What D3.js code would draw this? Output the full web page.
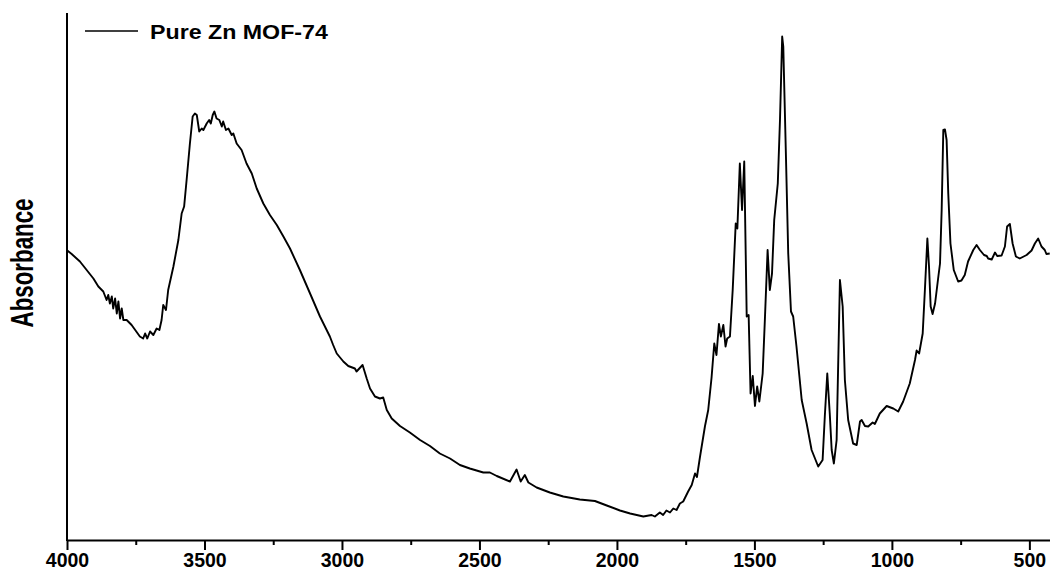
<!DOCTYPE html>
<html>
<head>
<meta charset="utf-8">
<script src="https://cdn.jsdelivr.net/npm/d3@7"></script>
<style>
    body { margin: 0; background: #fff; }
</style>
</head>
<body>
<svg></svg>
<script>
// FTIR spectrum (wavenumber in cm-1, absorbance in a.u.)
const wavenumber = [3999, 3983, 3953, 3904, 3886, 3868, 3856, 3850, 3844, 3837,
    3832, 3825, 3819, 3813, 3807, 3801, 3795, 3783, 3765, 3735,
    3723, 3716, 3708, 3698, 3686, 3674, 3664, 3656, 3650, 3640,
    3632, 3613, 3595, 3583, 3574, 3565, 3553, 3543, 3535, 3528,
    3519, 3510, 3504, 3492, 3483, 3477, 3470, 3464, 3456, 3446,
    3437, 3432, 3422, 3413, 3401, 3395, 3383, 3365, 3347, 3328,
    3310, 3286, 3262, 3237, 3213, 3189, 3153, 3116, 3080, 3044,
    3032, 3019, 2995, 2977, 2953, 2947, 2925, 2910, 2898, 2880,
    2862, 2850, 2837, 2819, 2789, 2753, 2716, 2680, 2644, 2607,
    2571, 2535, 2486, 2462, 2437, 2389, 2365, 2350, 2335, 2322,
    2292, 2244, 2195, 2135, 2080, 2037, 1989, 1952, 1904, 1874,
    1862, 1844, 1832, 1820, 1807, 1795, 1783, 1771, 1759, 1741,
    1728, 1716, 1709, 1698, 1680, 1668, 1656, 1646, 1638, 1629,
    1622, 1613, 1605, 1599, 1589, 1579, 1568, 1562, 1553, 1545,
    1537, 1528, 1521, 1514, 1506, 1498, 1490, 1482, 1470, 1462,
    1452, 1444, 1436, 1428, 1415, 1407, 1399, 1395, 1385, 1377,
    1367, 1359, 1347, 1328, 1310, 1292, 1268, 1252, 1244, 1235,
    1226, 1219, 1211, 1201, 1189, 1179, 1171, 1159, 1141, 1128,
    1116, 1110, 1098, 1086, 1070, 1062, 1044, 1019, 995, 977,
    959, 935, 916, 910, 901, 888, 880, 871, 865, 859,
    852, 843, 831, 825, 819, 813, 807, 801, 795, 787,
    775, 759, 747, 735, 723, 704, 692, 680, 665, 655,
    650, 637, 625, 617, 601, 589, 581, 571, 561, 549,
    535, 510, 492, 480, 468, 456, 444, 438, 426]

const absorbance = [0.579, 0.572, 0.557, 0.523, 0.507, 0.497, 0.480, 0.490, 0.473, 0.487,
    0.463, 0.483, 0.453, 0.477, 0.443, 0.463, 0.440, 0.440, 0.430, 0.407,
    0.403, 0.413, 0.403, 0.417, 0.410, 0.423, 0.420, 0.440, 0.470, 0.460,
    0.500, 0.547, 0.600, 0.653, 0.667, 0.720, 0.793, 0.847, 0.853, 0.850,
    0.817, 0.823, 0.820, 0.833, 0.840, 0.833, 0.850, 0.857, 0.843, 0.840,
    0.827, 0.837, 0.820, 0.823, 0.810, 0.813, 0.793, 0.780, 0.753, 0.733,
    0.703, 0.673, 0.650, 0.630, 0.607, 0.583, 0.540, 0.493, 0.447, 0.407,
    0.390, 0.373, 0.357, 0.348, 0.343, 0.337, 0.350, 0.323, 0.303, 0.287,
    0.283, 0.285, 0.260, 0.243, 0.228, 0.215, 0.200, 0.188, 0.173, 0.163,
    0.150, 0.143, 0.135, 0.135, 0.128, 0.117, 0.141, 0.117, 0.130, 0.115,
    0.105, 0.095, 0.087, 0.081, 0.078, 0.069, 0.059, 0.053, 0.047, 0.050,
    0.047, 0.055, 0.050, 0.059, 0.055, 0.063, 0.060, 0.073, 0.077, 0.097,
    0.110, 0.133, 0.126, 0.166, 0.227, 0.260, 0.324, 0.393, 0.370, 0.432,
    0.407, 0.430, 0.387, 0.403, 0.407, 0.500, 0.633, 0.623, 0.753, 0.660,
    0.757, 0.447, 0.450, 0.293, 0.328, 0.268, 0.307, 0.277, 0.333, 0.440,
    0.580, 0.500, 0.533, 0.640, 0.713, 0.840, 1.007, 0.987, 0.760, 0.573,
    0.457, 0.447, 0.387, 0.280, 0.233, 0.180, 0.147, 0.160, 0.247, 0.333,
    0.253, 0.180, 0.153, 0.200, 0.520, 0.467, 0.320, 0.240, 0.193, 0.190,
    0.237, 0.240, 0.228, 0.227, 0.235, 0.232, 0.253, 0.268, 0.263, 0.257,
    0.277, 0.313, 0.360, 0.379, 0.373, 0.413, 0.500, 0.603, 0.547, 0.467,
    0.452, 0.473, 0.527, 0.553, 0.660, 0.820, 0.821, 0.800, 0.693, 0.593,
    0.540, 0.517, 0.519, 0.530, 0.557, 0.580, 0.590, 0.580, 0.570, 0.568,
    0.563, 0.561, 0.575, 0.568, 0.569, 0.587, 0.627, 0.632, 0.593, 0.567,
    0.563, 0.570, 0.579, 0.593, 0.603, 0.587, 0.580, 0.572, 0.573]

const majorTicks = [4000, 3500, 3000, 2500, 2000, 1500, 1000, 500]
const minorTicks = [3750, 3250, 2750, 2250, 1750, 1250, 750]
const seriesName = "Pure Zn MOF-74"
const yTitle = "Absorbance"

const data = d3.zip(wavenumber, absorbance).map(function (d) {
    return { wn: d[0], abs: d[1] }
})

const width = 1050
const height = 573
const font = "'Liberation Sans', Arial, Helvetica, sans-serif"

const margin = { top: 13, bottom: 33, left: 67, right: 0 }

const svg = d3.select("svg")
    .attr("width", width)
    .attr("height", height)
    .style("display", "block")

// x runs backwards, like every IR plot
const x = d3.scaleLinear()
    .domain([4000, 425])
    .range([margin.left, width - margin.right])

const y = d3.scaleLinear()
    .domain([0, 1.054])
    .range([height - margin.bottom, margin.top])

const y0 = height - margin.bottom

// minor ticks first, then the major axis on top
svg.append("g")
    .attr("transform", `translate(0, ${y0})`)
    .call(d3.axisBottom(x).tickValues(minorTicks).tickSize(5).tickSizeOuter(0).tickFormat(""))
    .call(g => g.select(".domain").remove())
    .selectAll("line")
    .attr("stroke", "#000")
    .attr("stroke-width", 2)

const bottomAxis = svg.append("g")
    .attr("transform", `translate(0, ${y0})`)
    .call(d3.axisBottom(x).tickValues(majorTicks).tickSize(10).tickSizeOuter(0).tickPadding(3.5).tickFormat(d3.format("d")))

bottomAxis.select(".domain")
    .attr("stroke", "#000")
    .attr("stroke-width", 2)
bottomAxis.selectAll(".tick line")
    .attr("stroke", "#000")
    .attr("stroke-width", 2)
bottomAxis.selectAll(".tick text")
    .style("font-family", font)
    .style("font-size", "19.5px")
    .style("font-weight", "bold")
    .attr("fill", "#000")

// left axis: just the line, no ticks
svg.append("line")
    .attr("x1", x(4000))
    .attr("x2", x(4000))
    .attr("y1", margin.top)
    .attr("y2", y0 + 1)
    .attr("stroke", "#000")
    .attr("stroke-width", 2)

const line = d3.line()
    .x(function (d) { return x(d.wn) })
    .y(function (d) { return y(d.abs) })
    .curve(d3.curveLinear)

svg.append("path")
    .datum(data)
    .attr("d", line)
    .style("fill", "none")
    .style("stroke", "#000")
    .style("stroke-width", "1.9")
    .style("stroke-linejoin", "round")

// legend
svg.append("line")
    .attr("x1", 85).attr("x2", 138)
    .attr("y1", 31).attr("y2", 31)
    .attr("stroke", "#000")
    .attr("stroke-width", 1.6)
svg.append("text")
    .attr("transform", "translate(150, 38.5) scale(1.19, 1)")
    .text(seriesName)
    .style("font-family", font)
    .style("font-size", "19.5px")
    .style("font-weight", "bold")

// y title
svg.append("text")
    .text(yTitle)
    .attr("text-anchor", "middle")
    .attr("transform", "translate(33, 263) rotate(-90) scale(1, 1.4)")
    .attr("textLength", 129)
    .attr("lengthAdjust", "spacingAndGlyphs")
    .style("font-family", font)
    .style("font-size", "22px")
    .style("font-weight", "bold")
</script>
</body>
</html>
